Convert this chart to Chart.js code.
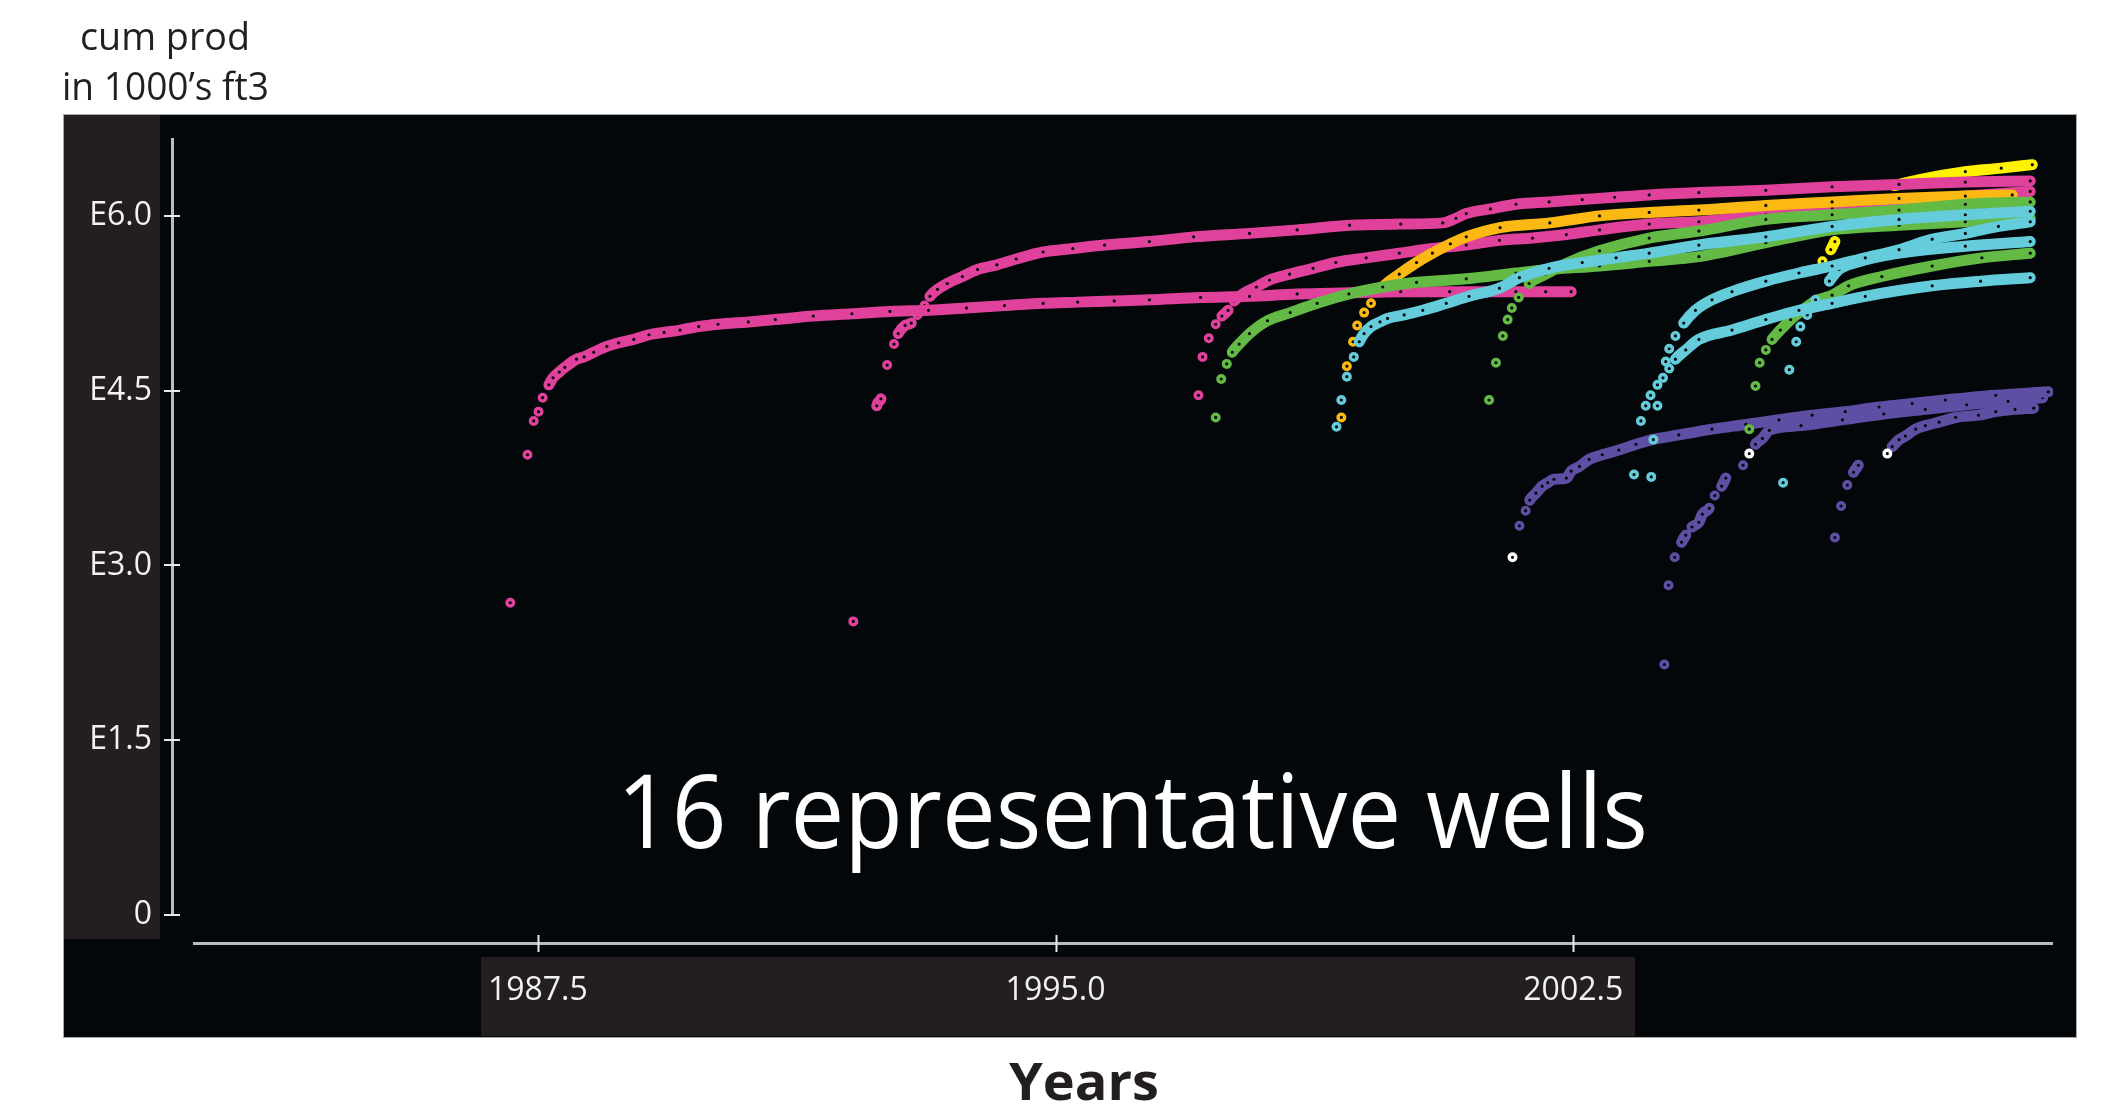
<!DOCTYPE html>
<html>
<head>
<meta charset="utf-8">
<script src="https://cdn.jsdelivr.net/npm/chart.js@4.4.1/dist/chart.umd.min.js"></script>
<style>
html,body{margin:0;padding:0;background:#ffffff;}
canvas{display:block;}
</style>
</head>
<body>
<canvas id="c" width="2112" height="1116"></canvas>
<script>
// ---------------- DATA (year, log10 of cumulative production) ----------------
const xTickValues = [1987.5, 1995.0, 2002.5];
const yTickStep = 1.5;
const xRange = [1982.2, 2009.45];
const yRange = [0, 6.66];

const wellP1 = [[1987.10,2.68],[1987.35,3.95],[1987.44,4.24],[1987.51,4.32],[1987.57,4.44],[1987.66,4.55],[1987.72,4.61],[1987.81,4.66],[1987.89,4.70],[1988.06,4.77],[1988.17,4.79],[1988.31,4.83],[1988.50,4.88],[1988.67,4.91],[1988.89,4.94],[1989.11,4.98],[1989.33,5.00],[1989.56,5.02],[1989.83,5.05],[1990.11,5.07],[1990.55,5.09],[1990.94,5.11],[1991.49,5.14],[1992.05,5.16],[1992.60,5.18],[1993.16,5.19],[1993.71,5.21],[1994.26,5.23],[1994.82,5.25],[1995.32,5.26],[1995.85,5.27],[1996.36,5.28],[1997.10,5.30],[1997.81,5.31],[1998.50,5.33],[1999.26,5.34],[2000.00,5.35],[2000.71,5.35],[2001.20,5.35],[2001.67,5.35],[2002.10,5.35],[2002.47,5.35]];
const wellP2 = [[1992.07,2.52],[1992.41,4.37],[1992.47,4.43],[1992.56,4.72],[1992.66,4.90],[1992.72,4.99],[1992.82,5.06],[1992.91,5.08],[1993.00,5.15],[1993.10,5.23],[1993.18,5.31],[1993.29,5.37],[1993.43,5.42],[1993.65,5.48],[1993.87,5.54],[1994.15,5.58],[1994.43,5.63],[1994.82,5.69],[1995.25,5.72],[1995.71,5.75],[1996.36,5.78],[1997.00,5.82],[1997.81,5.85],[1998.50,5.88],[1999.26,5.92],[2000.00,5.93],[2000.61,5.94],[2000.80,5.98],[2000.95,6.02],[2001.30,6.06],[2001.67,6.10],[2002.15,6.12],[2002.63,6.14],[2003.10,6.16],[2003.60,6.18],[2004.32,6.20],[2005.29,6.22],[2006.25,6.25],[2007.22,6.27],[2008.18,6.29],[2009.12,6.30]];
const wellP3 = [[1997.07,4.46],[1997.13,4.79],[1997.22,4.95],[1997.32,5.07],[1997.41,5.14],[1997.50,5.19],[1997.59,5.27],[1997.71,5.33],[1997.91,5.39],[1998.10,5.45],[1998.39,5.50],[1998.73,5.55],[1999.06,5.60],[1999.50,5.64],[1999.98,5.68],[2000.46,5.72],[2000.95,5.75],[2001.43,5.79],[2001.91,5.81],[2002.40,5.84],[2002.88,5.88],[2003.60,5.93],[2004.32,5.95],[2005.29,6.01],[2006.25,6.07],[2007.22,6.12],[2008.18,6.17],[2009.12,6.21]];
const wellO1 = [[1999.14,4.27],[1999.22,4.71],[1999.31,4.92],[1999.37,5.06],[1999.47,5.17],[1999.57,5.25],[1999.74,5.39],[1999.98,5.50],[2000.23,5.60],[2000.46,5.68],[2000.72,5.76],[2000.95,5.82],[2001.44,5.90],[2002.16,5.94],[2002.88,6.00],[2003.60,6.03],[2004.32,6.05],[2005.29,6.09],[2006.25,6.12],[2007.22,6.15],[2008.18,6.17],[2008.86,6.18]];
const wellY1 = [[2006.11,5.61],[2006.23,5.71],[2006.29,5.78],[2006.70,null],[2007.15,6.26],[2007.50,6.31],[2008.18,6.38],[2008.70,6.41],[2009.15,6.44]];
const wellG1 = [[1997.32,4.27],[1997.40,4.60],[1997.48,4.73],[1997.56,4.83],[1997.66,4.90],[1997.81,4.99],[1998.07,5.10],[1998.40,5.17],[1998.79,5.25],[1999.25,5.33],[1999.74,5.39],[2000.23,5.43],[2000.95,5.46],[2001.67,5.51],[2002.15,5.54],[2002.88,5.57],[2003.60,5.61],[2004.32,5.65],[2005.29,5.77],[2006.25,5.88],[2007.22,5.92],[2008.18,5.95],[2009.12,5.98]];
const wellG2 = [[2001.28,4.42],[2001.38,4.74],[2001.48,4.97],[2001.55,5.11],[2001.61,5.21],[2001.71,5.30],[2001.86,5.42],[2002.10,5.50],[2002.39,5.59],[2002.88,5.70],[2003.60,5.81],[2004.32,5.87],[2005.29,5.97],[2006.25,6.01],[2007.22,6.05],[2008.18,6.10],[2009.12,6.12]];
const wellG3 = [[2005.05,4.17],[2005.14,4.54],[2005.20,4.74],[2005.29,4.85],[2005.38,4.94],[2005.50,5.02],[2005.65,5.11],[2005.82,5.19],[2006.01,5.27],[2006.25,5.32],[2006.49,5.40],[2006.97,5.48],[2007.70,5.57],[2008.42,5.64],[2009.12,5.68]];
const wellC1 = [[1999.07,4.19],[1999.14,4.42],[1999.22,4.62],[1999.32,4.79],[1999.40,4.92],[1999.47,4.99],[1999.57,5.05],[1999.70,5.09],[1999.81,5.12],[2000.05,5.15],[2000.32,5.19],[2000.66,5.25],[2000.99,5.31],[2001.43,5.38],[2001.72,5.47],[2002.15,5.55],[2002.63,5.60],[2003.12,5.64],[2003.60,5.68],[2004.32,5.75],[2005.29,5.82],[2006.25,5.91],[2007.22,5.97],[2008.18,6.01],[2009.12,6.04]];
const wellC2 = [[2003.38,3.78],[2003.48,4.24],[2003.55,4.37],[2003.62,4.46],[2003.72,4.55],[2003.84,4.75],[2003.89,4.86],[2003.98,4.97],[2004.10,5.08],[2004.27,5.19],[2004.51,5.28],[2004.80,5.35],[2005.29,5.44],[2005.77,5.51],[2006.25,5.57],[2006.73,5.64],[2007.22,5.71],[2007.70,5.80],[2008.18,5.85],[2008.66,5.91],[2009.12,5.95]];
const wellC3 = [[2003.63,3.76],[2003.66,4.08],[2003.72,4.37],[2003.80,4.61],[2003.89,4.69],[2003.98,4.77],[2004.13,4.85],[2004.32,4.94],[2004.80,5.02],[2005.29,5.11],[2005.77,5.19],[2006.25,5.25],[2006.73,5.31],[2007.70,5.40],[2008.40,5.44],[2009.12,5.47]];
const wellC4 = [[2005.54,3.71],[2005.63,4.68],[2005.73,4.92],[2005.79,5.05],[2005.89,5.15],[2006.01,5.28],[2006.21,5.44],[2006.35,5.54],[2006.60,5.60],[2007.22,5.68],[2008.18,5.74],[2009.12,5.78]];
const wellU1 = [[2001.72,3.34],[2001.81,3.47],[2001.87,3.56],[2001.96,3.62],[2002.05,3.68],[2002.13,3.71],[2002.22,3.74],[2002.40,3.75],[2002.47,3.81],[2002.59,3.85],[2002.73,3.91],[2002.92,3.95],[2003.16,3.99],[2003.41,4.04],[2003.65,4.08],[2004.03,4.12],[2004.51,4.17],[2005.00,4.21],[2005.48,4.25],[2005.96,4.29],[2006.44,4.32],[2006.93,4.36],[2007.41,4.39],[2007.89,4.42],[2008.62,4.46],[2009.38,4.49]];
const wellU2 = [[2003.82,2.15],[2003.88,2.83],[2003.97,3.07],[2004.07,3.20],[2004.13,3.26],[2004.22,3.33],[2004.32,3.37],[2004.37,3.44],[2004.47,3.49],[2004.55,3.60],[2004.65,3.68],[2004.71,3.75],[2004.84,null],[2004.96,3.86],[2005.14,4.04],[2005.24,4.09],[2005.34,4.16],[2005.80,4.20],[2006.40,4.25],[2007.00,4.30],[2007.60,4.34],[2008.20,4.38],[2008.80,4.41],[2009.30,4.44]];
const wellU3 = [[2006.29,3.24],[2006.38,3.51],[2006.47,3.69],[2006.56,3.80],[2006.63,3.86],[2006.90,null],[2007.12,4.02],[2007.22,4.08],[2007.31,4.11],[2007.46,4.17],[2007.60,4.20],[2007.80,4.23],[2008.04,4.27],[2008.37,4.29],[2008.62,4.32],[2008.90,4.34],[2009.17,4.35]];
const wellW = [[2001.62,3.07],[2005.05,3.96],[2007.05,3.96]];

// ---------------- STYLE ----------------
const PANEL = '#03070a';
const STRIP = '#231f20';
const COL = {
  pink:'#e0419b', orange:'#fdb913', yellow:'#fff200', green:'#63ba45',
  cyan:'#64ccdb', purple:'#5f4fa4', white:'#ffffff'
};
const series = [
  {pts: wellW,  color: COL.white,  line:false, order:0},
  {pts: wellC1, color: COL.cyan,   order:0},
  {pts: wellC2, color: COL.cyan,   order:0},
  {pts: wellC3, color: COL.cyan,   order:0},
  {pts: wellC4, color: COL.cyan,   order:0},
  {pts: wellG1, color: COL.green,  order:0},
  {pts: wellG2, color: COL.green,  order:0},
  {pts: wellG3, color: COL.green,  order:0},
  {pts: wellO1, color: COL.orange, order:1},
  {pts: wellP1, color: COL.pink,   order:2},
  {pts: wellP2, color: COL.pink,   order:2},
  {pts: wellP3, color: COL.pink,   order:2},
  {pts: wellU1, color: COL.purple, order:3},
  {pts: wellU2, color: COL.purple, order:3},
  {pts: wellU3, color: COL.purple, order:3},
  {pts: wellY1, color: COL.yellow, order:5}
];

// steep, widely spaced early readings show as separate rings (no band between them)
function steep(ctx){
  const dx = Math.abs(ctx.p1.x - ctx.p0.x), dy = Math.abs(ctx.p1.y - ctx.p0.y);
  return dy > 1.3 * dx && Math.hypot(dx, dy) > 10;
}

const datasets = series.map(s => ({
  data: s.pts.map(([x, y]) => ({x, y})),
  showLine: s.line !== false,
  spanGaps: false,
  borderColor: s.color,
  borderWidth: 11,
  borderCapStyle: 'round',
  borderJoinStyle: 'round',
  cubicInterpolationMode: 'monotone',
  pointRadius: 3.3,
  pointHoverRadius: 3.3,
  pointBorderWidth: 3.4,
  pointBorderColor: s.color,
  pointBackgroundColor: PANEL,
  order: s.order,
  segment: { borderColor: ctx => steep(ctx) ? 'rgba(0,0,0,0)' : undefined }
}));

function fitText(ctx, text, x, y, font, color, targetW, align){
  ctx.save();
  ctx.font = font;
  ctx.fillStyle = color;
  ctx.textBaseline = 'alphabetic';
  ctx.textAlign = align;
  const w = ctx.measureText(text).width;
  const s = targetW ? targetW / w : 1;
  ctx.translate(x, y);
  ctx.scale(s, 1);
  ctx.fillText(text, 0, 0);
  ctx.restore();
}

const FONT = '"Open Sans", "Noto Sans", sans-serif';

const decor = {
  id: 'decor',
  beforeDraw(chart){
    const ctx = chart.ctx;
    ctx.save();
    ctx.fillStyle = '#ffffff';
    ctx.fillRect(0, 0, chart.width, chart.height);
    ctx.fillStyle = PANEL;
    ctx.fillRect(63, 114, 2014, 924);
    ctx.fillStyle = STRIP;
    ctx.fillRect(63, 114, 97, 825);
    ctx.fillRect(481, 957, 1154, 79);
    ctx.strokeStyle = '#a8a8a8';
    ctx.lineWidth = 1;
    ctx.strokeRect(63.5, 114.5, 2013, 923);
    ctx.restore();
  },
  afterDraw(chart){
    const ctx = chart.ctx;
    const xs = chart.scales.x, ys = chart.scales.y;
    const area = chart.chartArea;
    ctx.save();
    // x axis line (offset below plot, as in the original)
    ctx.strokeStyle = '#bdbdbd';
    ctx.lineWidth = 3;
    ctx.beginPath();
    ctx.moveTo(area.left + 21, 943.5);
    ctx.lineTo(area.right, 943.5);
    ctx.stroke();
    // tick marks
    ctx.strokeStyle = '#e8e8e8';
    ctx.lineWidth = 2;
    xs.ticks.forEach(t => {
      const px = Math.round(xs.getPixelForValue(t.value)) + 0.5;
      ctx.beginPath(); ctx.moveTo(px, 935); ctx.lineTo(px, 952); ctx.stroke();
    });
    ys.ticks.forEach(t => {
      const py = Math.round(ys.getPixelForValue(t.value));
      ctx.beginPath(); ctx.moveTo(area.left - 8, py); ctx.lineTo(area.left + 8, py); ctx.stroke();
    });
    ctx.restore();
    // texts
    fitText(ctx, 'cum prod', 165, 50, '38px ' + FONT, '#231f20', 170, 'center');
    fitText(ctx, 'in 1000\u2019s ft3', 165.5, 100, '38px ' + FONT, '#231f20', 207, 'center');
    fitText(ctx, 'Years', 1084, 1100, 'bold 52px ' + FONT, '#231f20', 150, 'center');
    fitText(ctx, '16 representative wells', 617, 848, '102px ' + FONT, '#ffffff', 1031, 'left');
  }
};

new Chart(document.getElementById('c'), {
  type: 'scatter',
  data: { datasets },
  plugins: [decor],
  options: {
    responsive: false,
    animation: false,
    events: [],
    devicePixelRatio: 1,
    layout: { padding: { left: 0, right: 59, top: 139, bottom: 0 } },
    plugins: { legend: { display: false }, tooltip: { enabled: false } },
    scales: {
      x: {
        type: 'linear',
        min: xRange[0], max: xRange[1],
        afterBuildTicks: s => { s.ticks = xTickValues.map(v => ({ value: v })); },
        afterFit: s => { s.height = 201; },
        grid: { display: false, drawTicks: false },
        border: { display: false },
        ticks: {
          callback: v => Number(v).toFixed(1),
          color: '#f2f2f2',
          font: { family: FONT, size: 32 },
          padding: 57,
          maxRotation: 0, autoSkip: false
        }
      },
      y: {
        type: 'linear',
        min: yRange[0], max: yRange[1],
        afterFit: s => { s.width = 172; },
        grid: { display: false, drawTicks: false },
        border: { display: true, color: '#bdbdbd', width: 3 },
        ticks: {
          stepSize: yTickStep,
          includeBounds: false,
          callback: v => (v === 0 ? '0' : 'E' + Number(v).toFixed(1)),
          color: '#f2f2f2',
          font: { family: FONT, size: 32 },
          padding: 20
        }
      }
    }
  }
});
</script>
</body>
</html>
